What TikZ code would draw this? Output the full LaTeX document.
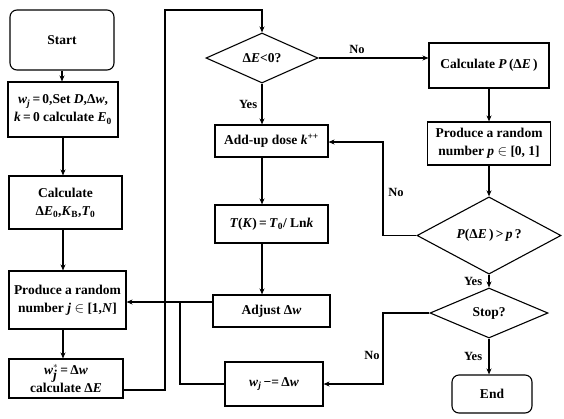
\documentclass[tikz,border=0pt]{standalone}
\usepackage{fontspec}
\setmainfont{Liberation Serif}
\usetikzlibrary{arrows.meta,shapes.geometric,calc}
\begin{document}
\begin{tikzpicture}[x=1pt,y=-1pt,
  font=\fontsize{13.5}{18}\selectfont\bfseries,
  box/.style={draw,line width=1.1pt,inner sep=1pt,align=center},
  rbox/.style={box,rounded corners=7pt},
  dia/.style={draw,line width=1.1pt,diamond,inner sep=0pt},
  arr/.style={line width=1.1pt,-{Stealth[length=6pt,width=5pt]}},
  ln/.style={line width=1.1pt},
  lbl/.style={font=\fontsize{12.5}{14}\selectfont\bfseries}]
\useasboundingbox (0,0) rectangle (564,418);
% left column
\node[rbox,minimum width=104,minimum height=60] (start) at (62,40) {Start};
\node[box,minimum width=110,minimum height=55] (b2) at (63,109.5)
  {\textit{w}\textsubscript{\textit{j}}\,=\,0,Set \textit{D},Δ\textit{w},\\\textit{k}\,=\,0 calculate \textit{E}\textsubscript{0}};
\node[box,minimum width=113,minimum height=53] (b3) at (65.5,202.5)
  {Calculate\\Δ\textit{E}\textsubscript{0},\textit{K}\textsubscript{B},\textit{T}\textsubscript{0}};
\node[box,minimum width=117,minimum height=58] (b4) at (67.5,300)
  {Produce a random\\number \textit{j} $\in$ [1,\textit{N}]};
\node[box,minimum width=114,minimum height=39] (b5) at (66,378.5)
  {\textit{w}$_{\textit{j}}^{*}$\,=\,Δ\textit{w}\\calculate Δ\textit{E}};
% middle column
\node[dia,minimum width=112,minimum height=50] (d1) at (262,58) {Δ\textit{E}<0?};
\node[box,minimum width=113,minimum height=32] (addup) at (271.5,141) {Add-up dose \textit{k}\textsuperscript{++}};
\node[box,minimum width=113,minimum height=38] (tk) at (271.5,224)
  {\textit{T}(\textit{K})\,=\,\textit{T}\textsubscript{0}/ Ln\textit{k}};
\node[box,minimum width=117,minimum height=32] (adj) at (271.5,311) {Adjust Δ\textit{w}};
\node[box,minimum width=98,minimum height=44] (wj) at (274,384) {\textit{w}\textsubscript{\textit{j}}\,−=\,Δ\textit{w}};
% right column
\node[box,minimum width=120,minimum height=45] (calcp) at (489,65.5) {Calculate \textit{P}\,(Δ\textit{E}\,)};
\node[box,minimum width=123,minimum height=43] (prodp) at (489,143.5)
  {Produce a random\\number \textit{p} $\in$ [0, 1]};
\node[dia,minimum width=144,minimum height=53] (d2) at (489,235.5) {\textit{P}(Δ\textit{E}\,)\,>\,\textit{p}\,?};
\node[dia,minimum width=118,minimum height=50] (d3) at (489,313) {Stop?};
\node[rbox,minimum width=80,minimum height=38] (end) at (492,394) {End};
% helper coordinates
\coordinate (lp) at (165,390);
\coordinate (tp) at (262,10);
\coordinate (jy) at (180,302);
\coordinate (nx) at (383,142);
\coordinate (sx) at (383,313);
% connectors
\draw[arr] (start.south) -- (start.south |- b2.north);
\draw[arr] (b2.south) -- (b2.south |- b3.north);
\draw[arr] (b2.south |- b3.south) -- (b2.south |- b4.north);
\draw[arr] (b2.south |- b4.south) -- (b2.south |- b5.north);
\draw[arr] (b5.east |- lp) -- (lp) |- (tp) -- (d1.north);
\draw[arr] (d1.south) -- (d1.south |- addup.north) node[lbl,midway,left,xshift=-1pt] (yes1) {Yes};
\draw[arr] (d1.east) -- (d1.east -| calcp.west) node[lbl,pos=0.35,above] (no1) {No};
\draw[arr] (d1.south |- addup.south) -- (d1.south |- tk.north);
\draw[arr] (d1.south |- tk.south) -- (d1.south |- adj.north);
\draw[arr] (adj.west |- jy) -- (b4.east |- jy);
\draw[ln] (wj.west) -| (jy);
\draw[arr] (calcp.south) -- (calcp.south |- prodp.north);
\draw[arr] (prodp.south) -- (d2.north);
\draw[arr] (d2.west) -| (nx) -- (addup.east |- nx);
\node[lbl] (no2) at (396,192) {No};
\draw[arr] (d2.south) -- (d3.north) node[lbl,midway,left,xshift=-3pt] (yes2) {Yes};
\draw[arr] (d3.west) -- (sx) |- (wj.east);
\node[lbl] (no3) at (372,355) {No};
\draw[arr] (d3.south) -- (d3.south |- end.north) node[lbl,midway,left,xshift=-3pt] (yes3) {Yes};
\end{tikzpicture}
\end{document}
